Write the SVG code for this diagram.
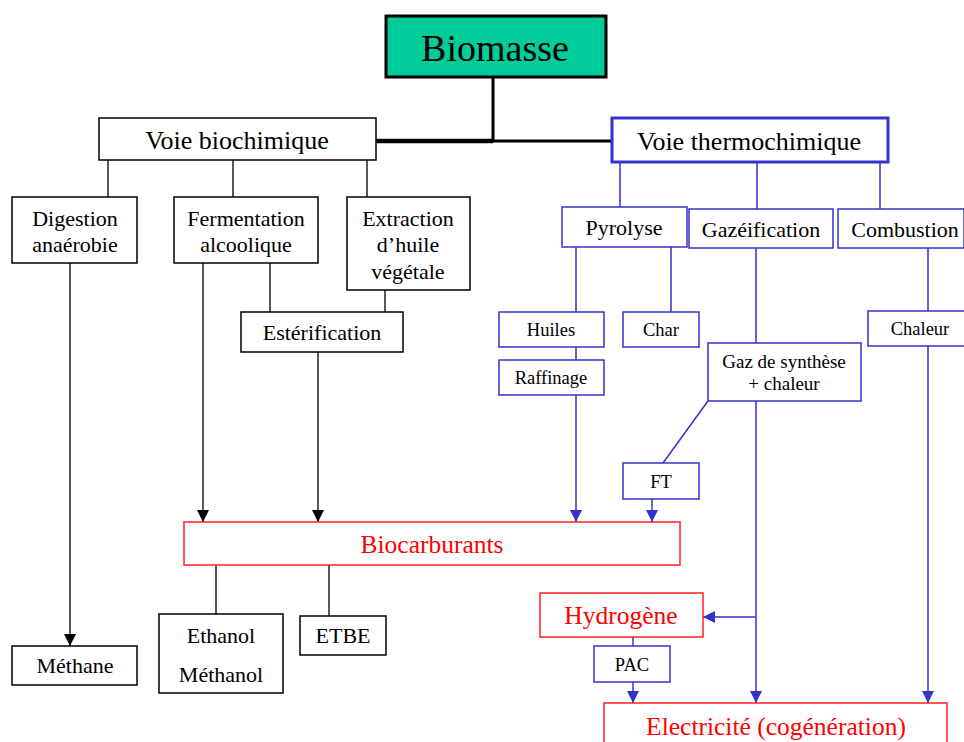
<svg xmlns="http://www.w3.org/2000/svg" width="964" height="742" viewBox="0 0 964 742">
<style>
text{font-family:"Liberation Serif","Times New Roman",serif;text-anchor:middle;fill:#000}
.bk{fill:#fff;stroke:#000;stroke-width:1.5}
.bl{fill:#fff;stroke:#3333CC;stroke-width:1.5}
.rd{fill:#fff;stroke:#FF2020;stroke-width:1.5}
.rt{fill:#FF0000;font-size:25.5px}
.m{font-size:22px}
.s{font-size:18.5px}
.v{font-size:26px}
.cb{fill:none;stroke:#222;stroke-width:1.5}
.cl{fill:none;stroke:#3333CC;stroke-width:1.5}
</style>
<defs>
<marker id="ab" markerUnits="userSpaceOnUse" markerWidth="12" markerHeight="12" refX="12" refY="6" orient="auto"><path d="M0,0 L12,6 L0,12 z" fill="#000"/></marker>
<marker id="au" markerUnits="userSpaceOnUse" markerWidth="12" markerHeight="12" refX="12" refY="6" orient="auto"><path d="M0,0 L12,6 L0,12 z" fill="#3333CC"/></marker>
</defs>
<rect width="964" height="742" fill="#fff"/>
<g id="connectors">
<path d="M493,77 V141" fill="none" stroke="#000" stroke-width="3"/>
<path d="M376,141 H493" fill="none" stroke="#000" stroke-width="4.5"/>
<path d="M493,141 H612" fill="none" stroke="#000" stroke-width="3"/>
<path class="cb" d="M108,160 V197 M233,160 V197 M367,160 V197"/>
<path class="cb" d="M70,263 V646" marker-end="url(#ab)"/>
<path class="cb" d="M203,263 V522" marker-end="url(#ab)"/>
<path class="cb" d="M270,263 V312 M385,290 V312"/>
<path class="cb" d="M318,352 V522" marker-end="url(#ab)"/>
<path class="cb" d="M216,565 V614 M329,565 V616"/>
<path class="cl" d="M620,162 V207 M757,162 V209 M880,162 V209"/>
<path class="cl" d="M576,247 V312 M671,247 V312 M576,347 V360"/>
<path class="cl" d="M576,395 V522" marker-end="url(#au)"/>
<path class="cl" d="M756,248 V343 M708,401 L663,463"/>
<path class="cl" d="M652,499 V522" marker-end="url(#au)"/>
<path class="cl" d="M756,401 V703" marker-end="url(#au)"/>
<path class="cl" d="M756,617 H703" marker-end="url(#au)"/>
<path class="cl" d="M928,248 V311"/>
<path class="cl" d="M928,346 V703" marker-end="url(#au)"/>
<path class="cl" d="M633,637 V646"/>
<path class="cl" d="M633,682 V703" marker-end="url(#au)"/>
</g>
<g id="biomasse"><rect x="386" y="16" width="220" height="61" fill="#00CC99" stroke="#000" stroke-width="3"/><text x="495" y="61" font-size="38">Biomasse</text></g>
<g id="voie-bio"><rect class="bk" x="99" y="118" width="277" height="42"/><text class="v" x="237" y="149">Voie biochimique</text></g>
<g id="voie-thermo"><rect x="612" y="118" width="276" height="44" fill="#fff" stroke="#3333CC" stroke-width="3"/><text class="v" x="749" y="150">Voie thermochimique</text></g>
<g id="digestion"><rect class="bk" x="12" y="197" width="125" height="66"/><text class="m" x="75" y="226">Digestion</text><text class="m" x="75" y="252">anaérobie</text></g>
<g id="fermentation"><rect class="bk" x="174" y="197" width="144" height="66"/><text class="m" x="246" y="226">Fermentation</text><text class="m" x="246" y="252">alcoolique</text></g>
<g id="extraction"><rect class="bk" x="347" y="197" width="123" height="93"/><text class="m" x="408" y="226">Extraction</text><text class="m" x="408" y="252">d’huile</text><text class="m" x="408" y="279">végétale</text></g>
<g id="esterification"><rect class="bk" x="241" y="312" width="162" height="40"/><text class="m" x="322" y="340">Estérification</text></g>
<g id="biocarburants"><rect class="rd" x="184" y="522" width="496" height="43"/><text class="rt" x="432" y="553">Biocarburants</text></g>
<g id="methane"><rect class="bk" x="12" y="646" width="125" height="39"/><text class="m" x="75" y="673">Méthane</text></g>
<g id="ethanol"><rect class="bk" x="159" y="614" width="124" height="79"/><text class="m" x="221" y="643">Ethanol</text><text class="m" x="221" y="682">Méthanol</text></g>
<g id="etbe"><rect class="bk" x="300" y="616" width="86" height="39"/><text class="m" x="343" y="643">ETBE</text></g>
<g id="pyrolyse"><rect class="bl" x="562" y="207" width="125" height="40"/><text class="m" x="624" y="235">Pyrolyse</text></g>
<g id="gazeification"><rect class="bl" x="689" y="209" width="144" height="39"/><text class="m" x="761" y="237">Gazéification</text></g>
<g id="combustion"><rect class="bl" x="838" y="209" width="126" height="39"/><text class="m" x="905" y="237">Combustion</text></g>
<g id="huiles"><rect class="bl" x="499" y="312" width="105" height="35"/><text class="s" x="551" y="336">Huiles</text></g>
<g id="raffinage"><rect class="bl" x="499" y="360" width="105" height="35"/><text class="s" x="551" y="384">Raffinage</text></g>
<g id="char"><rect class="bl" x="623" y="312" width="76" height="35"/><text class="s" x="661" y="336">Char</text></g>
<g id="gaz-synthese"><rect class="bl" x="708" y="343" width="153" height="58"/><text x="784" y="368" font-size="19">Gaz de synthèse</text><text x="784" y="390" font-size="19">+ chaleur</text></g>
<g id="chaleur"><rect class="bl" x="868" y="311" width="100" height="35"/><text class="s" x="920" y="335">Chaleur</text></g>
<g id="ft"><rect class="bl" x="623" y="463" width="76" height="36"/><text class="s" x="661" y="488">FT</text></g>
<g id="hydrogene"><rect class="rd" x="540" y="593" width="163" height="44"/><text class="rt" x="621" y="624">Hydrogène</text></g>
<g id="pac"><rect class="bl" x="594" y="646" width="76" height="36"/><text class="s" x="632" y="671">PAC</text></g>
<g id="electricite"><rect class="rd" x="604" y="703" width="343" height="50"/><text class="rt" x="776" y="735">Electricité (cogénération)</text></g>
</svg>
